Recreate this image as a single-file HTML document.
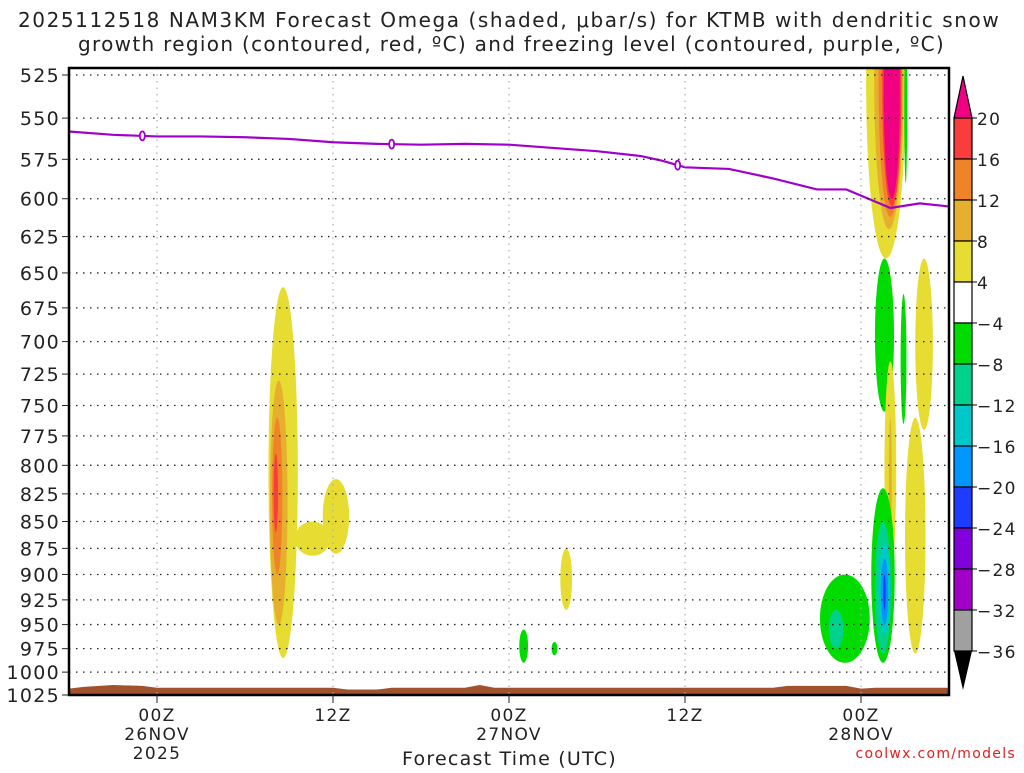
<!DOCTYPE html>
<html><head><meta charset="utf-8"><style>
body{margin:0;background:#fff;width:1024px;height:768px;overflow:hidden;font-family:"Liberation Sans",sans-serif}
svg text{font-family:"DejaVu Sans","Liberation Sans",sans-serif;fill:#222;letter-spacing:1.3px}
</style></head><body>
<svg id="c" width="1024" height="768" xmlns="http://www.w3.org/2000/svg">
<text x="18" y="27" font-size="20" textLength="982" lengthAdjust="spacing">2025112518 NAM3KM Forecast Omega (shaded, μbar/s) for KTMB with dendritic snow</text>
<text x="78" y="51" font-size="20" textLength="867" lengthAdjust="spacing">growth region (contoured, red, ºC) and freezing level (contoured, purple, ºC)</text>
<defs><clipPath id="pc"><rect x="69" y="68" width="880" height="627"/></clipPath></defs>
<g id="shade" clip-path="url(#pc)"></g>
<g id="grid"></g>
<g id="axes"></g>
<g id="cbar"></g>
<text x="402" y="765" font-size="19" textLength="215" lengthAdjust="spacing">Forecast Time (UTC)</text>
<text x="1016" y="758" font-size="14" text-anchor="end" style="fill:#e02020">coolwx.com/models</text>
</svg>
<script>
const pLevels=[525,550,575,600,625,650,675,700,725,750,775,800,825,850,875,900,925,950,975,1000,1025];
const xTickHours=[0,12,24,36,48];
const xTickLabels=[["00Z","26NOV","2025"],["12Z"],["00Z","27NOV"],["12Z"],["00Z","28NOV"]];
const frzHours=[-6,-3,0,3,6,9,12,15,18,21,24,27,30,33,34.5,36,39,42,45,47,48,50,52,54];
const frzPres=[558,560,561,561,561.5,562.5,564.5,565.5,566,565.5,566,568,570,573,576,580,581,587,594,594,598,606,603,605];
const frzLabelHours=[-1,16,35.5];
const sfcHours=[-6,-5,-3,-1,0,12,13,15,16,21,22,23,34,42,43,47,48,49,54];
const sfcPres=[1018,1016,1014,1015,1017,1017,1019,1019,1017,1017,1014,1017,1017,1017,1015,1015,1018,1017,1017];
const cbLevels=["20","16","12","8","4","−4","−8","−12","−16","−20","−24","−28","−32","−36"];
const cbColors=["#fa3c3c","#f08228","#e6af2d","#e6dc32","#ffffff","#00dc00","#00d28c","#00c8c8","#0096ff","#1e3cff","#8200dc","#a000c8","#a0a0a0"];
// blobs: [hour center, half-width hours, p top, p bottom, color index]
const blobHour=[8.6,8.3,8.2,8.1,10.6,12.2,27.9,25,27.1,49.7,49.9,50.0,50.1,50.1,51.05,49.6,50.9,50.0,50.0,52.3,51.7,46.9,49.5,49.5,46.3,49.6,49.6,49.6];
const blobHalfW=[1.0,0.6,0.35,0.15,1.2,0.9,0.4,0.3,0.2,1.35,1.0,0.8,0.65,0.55,0.1,0.65,0.2,0.4,0.1,0.6,0.7,1.7,0.8,0.55,0.5,0.4,0.25,0.08];
const blobTop=[660,730,760,790,850,812,875,955,968,440,450,460,470,480,500,640,665,715,760,640,760,900,820,850,935,870,885,900];
const blobBot=[985,950,900,860,882,880,935,990,982,640,620,612,605,600,590,755,765,900,880,770,980,990,990,980,975,960,950,935];
const blobLevel=["4","8","12","16","4","4","4","-4","-4","4","8","12","16","20","-4","-4","-4","4","8","4","4","-4","-4","-8","-8","-12","-16","-20"];
const levelColor={"4":"#e6dc32","8":"#e6af2d","12":"#f08228","16":"#fa3c3c","20":"#f00082","-4":"#00dc00","-8":"#00d28c","-12":"#00c8c8","-16":"#0096ff","-20":"#1e3cff"};

const L=69,R=949,T=75,B=695,h0=-6,h1=54;
const X=h=>L+(h-h0)/(h1-h0)*(R-L);
const Y=p=>T+(B-T)*Math.log(p/525)/Math.log(1025/525);
const NS="http://www.w3.org/2000/svg";
function mk(tag,attrs,parent){const e=document.createElementNS(NS,tag);for(const k in attrs)e.setAttribute(k,attrs[k]);parent.appendChild(e);return e;}
const shade=document.getElementById('shade'),grid=document.getElementById('grid'),axes=document.getElementById('axes'),cb=document.getElementById('cbar');

for(let i=0;i<blobHour.length;i++){
  const cx=X(blobHour[i]),rx=X(blobHour[i]+blobHalfW[i])-cx,yt=Y(blobTop[i]),yb=Y(blobBot[i]);
  const e=mk('ellipse',{cx:cx,cy:(yt+yb)/2,rx:rx,ry:(yb-yt)/2,fill:levelColor[blobLevel[i]]},shade);
  
  
}
let sp='M'+X(h0)+','+(B+2);
for(let i=0;i<sfcHours.length;i++)sp+=' L'+X(sfcHours[i])+','+Y(sfcPres[i]);
sp+=' L'+X(h1)+','+(B+2)+'Z';
const terr=mk('path',{d:sp,fill:'#a0522d'},shade);



pLevels.forEach(p=>{if(p===1025)return;const l=mk('line',{x1:L,x2:R,y1:Y(p),y2:Y(p),stroke:'#222','stroke-width':1.3,'stroke-dasharray':'1.5 5.5'},grid);

});
xTickHours.forEach(h=>{const l=mk('line',{x1:X(h),x2:X(h),y1:68,y2:B,stroke:'#aaa','stroke-width':1.2,'stroke-dasharray':'1.5 5'},grid);

});

let fp='';
for(let i=0;i<frzHours.length;i++)fp+=(i?' L':'M')+X(frzHours[i])+','+Y(frzPres[i]);
const fl=mk('path',{d:fp,fill:'none',stroke:'#a000c8','stroke-width':2.2},shade);


function interp(h){for(let i=1;i<frzHours.length;i++)if(h<=frzHours[i]){const t=(h-frzHours[i-1])/(frzHours[i]-frzHours[i-1]);return frzPres[i-1]+t*(frzPres[i]-frzPres[i-1]);}return frzPres[frzPres.length-1];}
frzLabelHours.forEach(h=>{const e=mk('ellipse',{cx:X(h),cy:Y(interp(h)),rx:2.5,ry:4.5,fill:'#fff',stroke:'#a000c8','stroke-width':1.8},grid);

});

const fr=mk('rect',{x:L,y:68,width:R-L,height:B-68,fill:'none',stroke:'#000','stroke-width':2.5},axes);


pLevels.forEach(p=>{mk('line',{x1:L-7,x2:L,y1:Y(p),y2:Y(p),stroke:'#222','stroke-width':1},axes);
const t=mk('text',{x:L-9,y:Y(p)+7,'font-size':19,'text-anchor':'end'},axes);t.textContent=p;

});
xTickHours.forEach((h,i)=>{mk('line',{x1:X(h),x2:X(h),y1:B,y2:B+8,stroke:'#222','stroke-width':1},axes);
xTickLabels[i].forEach((s,j)=>{const t=mk('text',{x:X(h),y:721+j*19,'font-size':17,'text-anchor':'middle'},axes);t.textContent=s;

});});

const cx0=954,cw=18,cy0=118,ch=41;
mk('polygon',{points:`${cx0},${cy0} ${cx0+cw},${cy0} ${cx0+cw/2},76`,fill:'#f00082',stroke:'#000','stroke-width':1.2},cb);
cbColors.forEach((c,i)=>{const r=mk('rect',{x:cx0,y:cy0+i*ch,width:cw,height:ch,fill:c,stroke:'#000','stroke-width':1.2},cb);

});
const by=cy0+cbColors.length*ch;
mk('polygon',{points:`${cx0},${by} ${cx0+cw},${by} ${cx0+cw/2},690`,fill:'#000'},cb);
cbLevels.forEach((s,i)=>{const y=cy0+i*ch;
mk('line',{x1:cx0+cw,x2:cx0+cw+5,y1:y,y2:y,stroke:'#000'},cb);
const t=mk('text',{x:cx0+cw+5,y:y+7,'font-size':17},cb);t.textContent=s;

});
</script>
</body></html>
